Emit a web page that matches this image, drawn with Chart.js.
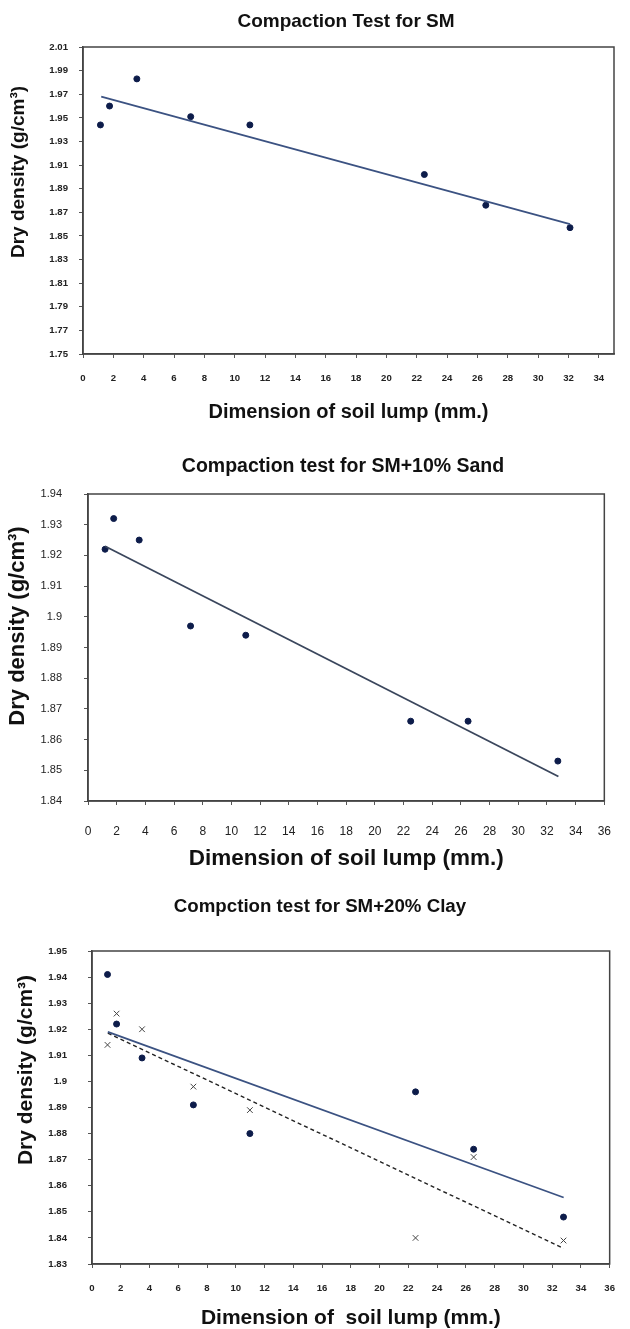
<!DOCTYPE html>
<html>
<head>
<meta charset="utf-8">
<script src="https://cdn.jsdelivr.net/npm/chart.js@4.4.1/dist/chart.umd.min.js"></script>
<style>
html,body{margin:0;padding:0;background:#fff;overflow:hidden;width:630px;height:1329px;}
.box{position:absolute;left:0;width:630px;}
</style>
</head>
<body>
<div class="box" style="top:0;height:440px;"><canvas id="c1"></canvas></div>
<div class="box" style="top:440px;height:440px;"><canvas id="c2"></canvas></div>
<div class="box" style="top:880px;height:452px;"><canvas id="c3"></canvas></div>
<script>
// ---------------- DATA ----------------
// Chart 1: Compaction Test for SM
const lumpSize1   = [1.15, 1.75, 3.55, 7.1, 11.0, 22.5, 26.55, 32.1];
const dryDensity1 = [1.944, 1.960, 1.983, 1.951, 1.944, 1.902, 1.876, 1.857];
const trendX1 = [1.2, 32.1];
const trendY1 = [1.968, 1.860];
const xTicks1 = [0,2,4,6,8,10,12,14,16,18,20,22,24,26,28,30,32,34];
const yTicks1 = [1.75,1.77,1.79,1.81,1.83,1.85,1.87,1.89,1.91,1.93,1.95,1.97,1.99,2.01];
const yLabels1 = ['1.75','1.77','1.79','1.81','1.83','1.85','1.87','1.89','1.91','1.93','1.95','1.97','1.99','2.01'];

// Chart 2: Compaction test for SM+10% Sand
const lumpSize2   = [1.19, 1.79, 3.57, 7.15, 11.0, 22.5, 26.5, 32.76];
const dryDensity2 = [1.922, 1.932, 1.925, 1.897, 1.894, 1.866, 1.866, 1.853];
const trendX2 = [1.19, 32.8];
const trendY2 = [1.923, 1.848];
const xTicks2 = [0,2,4,6,8,10,12,14,16,18,20,22,24,26,28,30,32,34,36];
const yTicks2 = [1.84,1.85,1.86,1.87,1.88,1.89,1.9,1.91,1.92,1.93,1.94];
const yLabels2 = ['1.84','1.85','1.86','1.87','1.88','1.89','1.9','1.91','1.92','1.93','1.94'];

// Chart 3: Compction test for SM+20% Clay
const lumpSize3      = [1.08, 1.71, 3.48, 7.05, 10.98, 22.5, 26.54, 32.79];
const dryDensity3a   = [1.941, 1.922, 1.909, 1.891, 1.880, 1.896, 1.874, 1.848]; // dots
const dryDensity3b   = [1.914, 1.926, 1.920, 1.898, 1.889, 1.840, 1.871, 1.839]; // crosses
const trendX3a = [1.1, 32.8];
const trendY3a = [1.919, 1.8555];
const trendX3b = [1.1, 32.8];
const trendY3b = [1.9185, 1.836];
const xTicks3 = [0,2,4,6,8,10,12,14,16,18,20,22,24,26,28,30,32,34,36];
const yTicks3 = [1.83,1.84,1.85,1.86,1.87,1.88,1.89,1.9,1.91,1.92,1.93,1.94,1.95];
const yLabels3 = ['1.83','1.84','1.85','1.86','1.87','1.88','1.89','1.9','1.91','1.92','1.93','1.94','1.95'];

// ---------------- HELPERS ----------------
const FONT = "'Liberation Sans', Arial, sans-serif";
const pts = (xs, ys) => xs.map((x, i) => ({x: x, y: ys[i]}));

const framePlugin = {
  id: 'frame',
  afterDatasetsDraw(chart, args, opts) {
    const a = chart.chartArea, ctx = chart.ctx;
    ctx.save();
    ctx.strokeStyle = opts.color || '#444';
    ctx.lineWidth = opts.width || 1.5;
    ctx.strokeRect(a.left, a.top, a.right - a.left, a.bottom - a.top);
    ctx.restore();
  }
};
const textPlugin = {
  id: 'texts',
  afterDraw(chart, args, opts) {
    const ctx = chart.ctx;
    (opts.items || []).forEach(t => {
      ctx.save();
      ctx.translate(t.x, t.y);
      ctx.rotate(t.rot || 0);
      ctx.font = t.font;
      ctx.fillStyle = t.color || '#111';
      ctx.textAlign = 'center';
      ctx.textBaseline = 'middle';
      ctx.fillText(t.text, 0, 0);
      ctx.restore();
    });
  }
};

function makeChart(id, cfg) {
  const tickFontX = {family: FONT, size: cfg.xTickSize, weight: cfg.tickBold ? 'bold' : 'normal'};
  const tickFontY = {family: FONT, size: cfg.yTickSize, weight: cfg.tickBold ? 'bold' : 'normal'};
  return new Chart(document.getElementById(id), {
    type: 'scatter',
    data: {datasets: cfg.datasets},
    options: {
      responsive: true,
      maintainAspectRatio: false,
      animation: false,
      devicePixelRatio: 1,
      layout: {padding: {left: 0, top: cfg.plotTop, right: 630 - cfg.plotRight, bottom: 0}},
      plugins: {
        legend: {display: false},
        tooltip: {enabled: false},
        title: {display: false},
        frame: {color: '#444', width: 1.5},
        texts: {items: cfg.texts}
      },
      scales: {
        x: {
          type: 'linear',
          min: cfg.xMin, max: cfg.xMax,
          afterBuildTicks: s => { s.ticks = cfg.xTicks.map(v => ({value: v})); },
          afterFit: s => { s.height = cfg.canvasH - cfg.plotBottom; },
          ticks: {font: tickFontX, color: '#222', padding: cfg.xTickPad, maxRotation: 0, autoSkip: false,
                  callback: v => String(v)},
          grid: {display: true, drawOnChartArea: false, drawTicks: true, tickLength: 4, color: '#555', lineWidth: 1},
          border: {display: true, color: '#444', width: 1.5},
          title: {display: true, text: cfg.xTitle, color: '#111',
                  font: {family: FONT, size: cfg.xTitleSize, weight: 'bold'},
                  padding: {top: 0, bottom: cfg.xTitlePad}}
        },
        y: {
          type: 'linear',
          min: cfg.yTicks[0], max: cfg.yTicks[cfg.yTicks.length - 1],
          afterBuildTicks: s => { s.ticks = cfg.yTicks.map(v => ({value: v})); },
          afterFit: s => { s.width = cfg.plotLeft; },
          ticks: {font: tickFontY, color: '#222', padding: cfg.yTickPad, autoSkip: false,
                  callback: (v, i) => cfg.yLabels[i]},
          grid: {display: true, drawOnChartArea: false, drawTicks: true, tickLength: 4, color: '#555', lineWidth: 1},
          border: {display: true, color: '#444', width: 1.5}
        }
      }
    },
    plugins: [framePlugin, textPlugin]
  });
}

const dotStyle = {pointStyle: 'circle', pointRadius: 3, pointBackgroundColor: '#0d1c4a', pointBorderColor: '#0d1c4a', pointBorderWidth: 1, showLine: false};
const lineStyle = (color, dash, w) => ({showLine: true, pointRadius: 0, borderColor: color, borderWidth: w, borderDash: dash, fill: false});

// ---------------- CHART 1 ----------------
makeChart('c1', {
  canvasH: 440, plotLeft: 83, plotRight: 614, plotTop: 47, plotBottom: 354,
  xMin: 0, xMax: 35, xTicks: xTicks1, yTicks: yTicks1, yLabels: yLabels1,
  tickBold: true, xTickSize: 9.6, yTickSize: 9.6, xTickPad: 15, yTickPad: 11,
  xTitle: 'Dimension of soil lump (mm.)', xTitleSize: 20, xTitlePad: 16,
  texts: [
    {text: 'Compaction Test for SM', x: 346, y: 22, font: 'bold 19px ' + FONT},
    {text: 'Dry density (g/cm³)', x: 19, y: 172, rot: -Math.PI / 2, font: 'bold 19px ' + FONT}
  ],
  datasets: [
    Object.assign({data: pts(trendX1, trendY1)}, lineStyle('#3b5282', [], 1.8)),
    Object.assign({data: pts(lumpSize1, dryDensity1)}, dotStyle)
  ]
});

// ---------------- CHART 2 ----------------
makeChart('c2', {
  canvasH: 440, plotLeft: 88, plotRight: 620, plotTop: 54, plotBottom: 361,
  xMin: 0, xMax: 36, xTicks: xTicks2, yTicks: yTicks2, yLabels: yLabels2,
  tickBold: false, xTickSize: 12, yTickSize: 11, xTickPad: 19, yTickPad: 22,
  xTitle: 'Dimension of soil lump (mm.)', xTitleSize: 22.5, xTitlePad: 8,
  texts: [
    {text: 'Compaction test for SM+10% Sand', x: 343, y: 27, font: 'bold 19.5px ' + FONT},
    {text: 'Dry density (g/cm³)', x: 18, y: 186, rot: -Math.PI / 2, font: 'bold 22px ' + FONT}
  ],
  datasets: [
    Object.assign({data: pts(trendX2, trendY2)}, lineStyle('#3a465c', [], 1.8)),
    Object.assign({data: pts(lumpSize2, dryDensity2)}, dotStyle)
  ]
});

// ---------------- CHART 3 ----------------
makeChart('c3', {
  canvasH: 452, plotLeft: 92, plotRight: 617, plotTop: 71, plotBottom: 384,
  xMin: 0, xMax: 36, xTicks: xTicks3, yTicks: yTicks3, yLabels: yLabels3,
  tickBold: true, xTickSize: 9.6, yTickSize: 9.6, xTickPad: 15, yTickPad: 21,
  xTitle: 'Dimension of  soil lump (mm.)', xTitleSize: 21, xTitlePad: 1.5,
  texts: [
    {text: 'Compction test for SM+20% Clay', x: 320, y: 27, font: 'bold 18.7px ' + FONT},
    {text: 'Dry density (g/cm³)', x: 26, y: 190, rot: -Math.PI / 2, font: 'bold 21px ' + FONT}
  ],
  datasets: [
    Object.assign({data: pts(trendX3a, trendY3a)}, lineStyle('#3b5282', [], 1.8)),
    Object.assign({data: pts(trendX3b, trendY3b)}, lineStyle('#222', [4, 3], 1.4)),
    Object.assign({data: pts(lumpSize3, dryDensity3a)}, dotStyle),
    Object.assign({data: pts(lumpSize3, dryDensity3b)},
      {pointStyle: 'crossRot', pointRadius: 4, pointBorderColor: '#444', pointBorderWidth: 1, pointBackgroundColor: '#444', showLine: false})
  ]
});
</script>
</body>
</html>
